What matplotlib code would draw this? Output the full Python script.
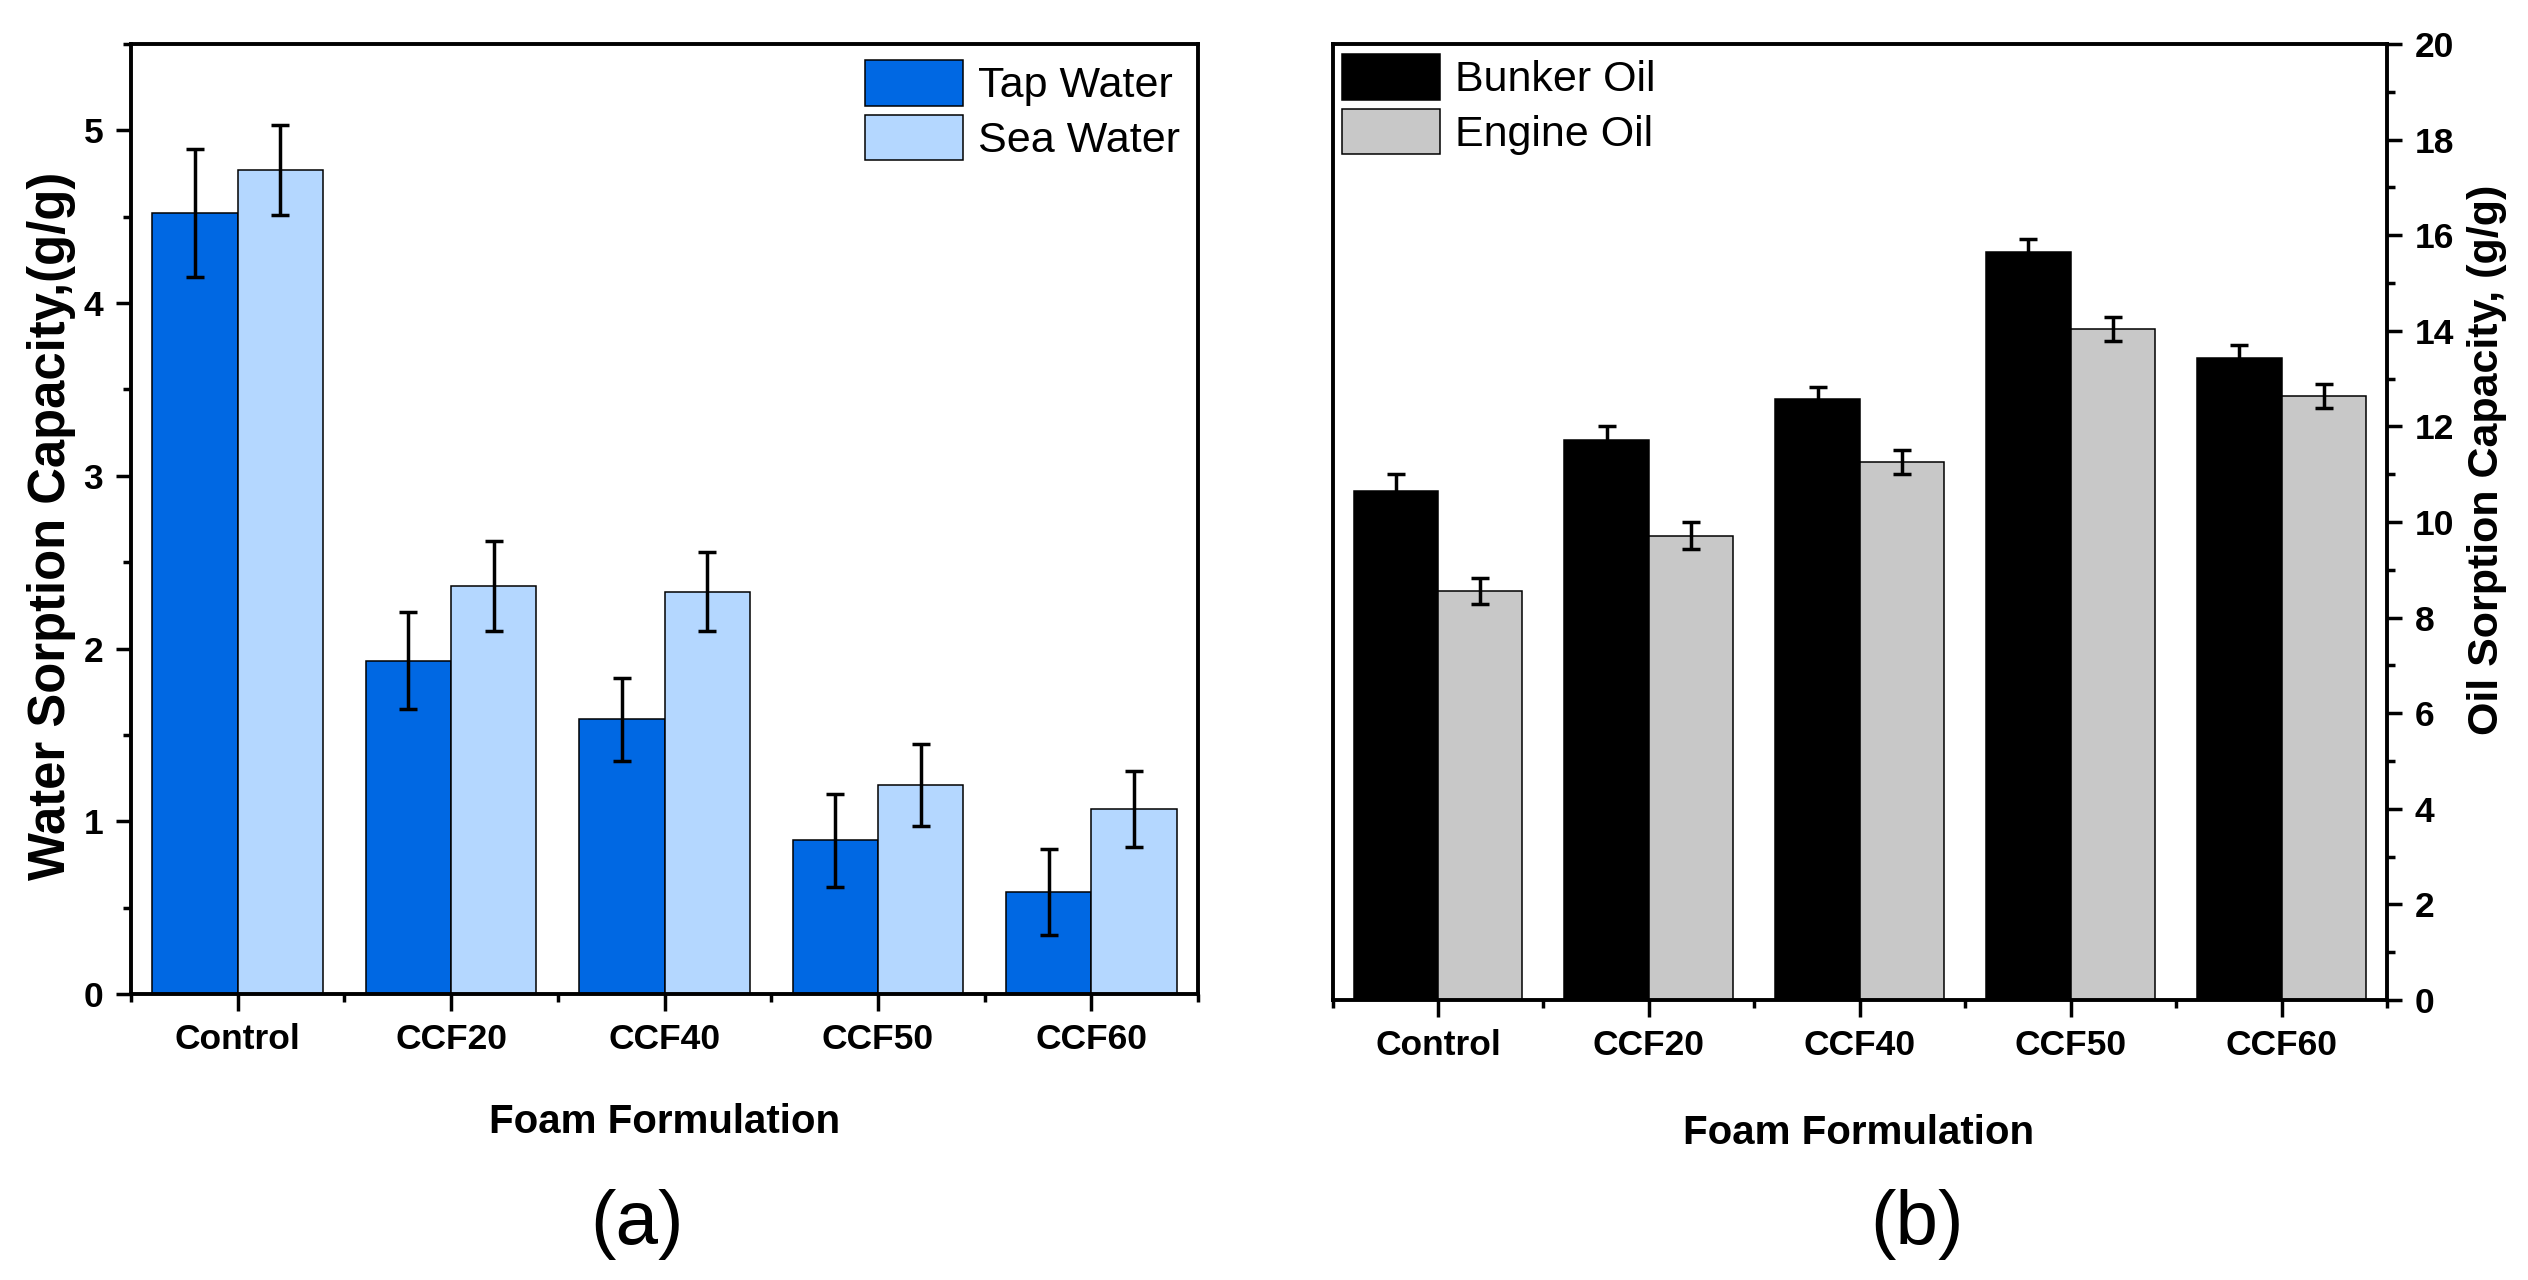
import matplotlib
matplotlib.use("Agg")
import matplotlib.pyplot as plt
from matplotlib.ticker import MultipleLocator, FixedLocator
import numpy as np

plt.rcParams['font.family'] = ['Liberation Sans', 'DejaVu Sans']

# ---------------- data ----------------
categories = ["Control", "CCF20", "CCF40", "CCF50", "CCF60"]

tap_water = [4.52, 1.93, 1.59, 0.89, 0.59]
tap_water_err = [0.37, 0.28, 0.24, 0.27, 0.25]
sea_water = [4.77, 2.36, 2.33, 1.21, 1.07]
sea_water_err = [0.26, 0.26, 0.23, 0.24, 0.22]

bunker_oil = [10.64, 11.72, 12.57, 15.64, 13.44]
bunker_oil_err = [0.36, 0.28, 0.25, 0.28, 0.26]
engine_oil = [8.55, 9.71, 11.26, 14.03, 12.64]
engine_oil_err = [0.27, 0.28, 0.25, 0.25, 0.25]

water_labels = ["Tap Water", "Sea Water"]
oil_labels = ["Bunker Oil", "Engine Oil"]

# ---------------- style ----------------
W, H = 2528, 1280
fig = plt.figure(figsize=(W / 100, H / 100), dpi=100)

def fx(px):
    return px / W

def fy(py):
    return 1 - py / H

axA = fig.add_axes([fx(131), fy(994), fx(1198 - 131), (994 - 44) / H])
axB = fig.add_axes([fx(1332.5), fy(1000), fx(2387 - 1332.5), (1000 - 44) / H])

c_tap = "#0068E3"
c_sea = "#B4D7FF"
c_bunker = "#000000"
c_engine = "#C8C8C8"

bw = 0.4
x = np.arange(len(categories))
err_kw = dict(ecolor="black", elinewidth=2.5, capsize=6.8, capthick=2.5)

def style_axes(ax, right=False):
    for s in ax.spines.values():
        s.set_linewidth(2.8)
        s.set_color("black")
    ax.set_xlim(-0.5, 4.5)
    ax.xaxis.set_major_locator(FixedLocator(x))
    ax.xaxis.set_minor_locator(FixedLocator(np.arange(-0.5, 4.6, 1.0)))
    ax.set_xticklabels(categories, fontsize=25.5, fontweight="bold")
    ax.tick_params(axis="x", which="major", direction="out", length=12, width=2.5, pad=9)
    ax.tick_params(axis="x", which="minor", direction="out", length=6, width=2.5)
    ax.tick_params(axis="x", top=False, which="both")
    if right:
        ax.yaxis.tick_right()
        ax.yaxis.set_label_position("right")
        ax.tick_params(axis="y", which="both", left=False, right=True,
                       labelleft=False, labelright=True)
    ax.tick_params(axis="y", which="major", direction="out", length=11, width=2.5,
                   pad=9, labelsize=25.5)
    ax.tick_params(axis="y", which="minor", direction="out", length=6, width=2.5)
    for lab in ax.get_yticklabels():
        lab.set_fontweight("bold")

# ---------------- panel (a) ----------------
axA.bar(x - bw / 2, tap_water, bw, color=c_tap, edgecolor="black", linewidth=1.1,
        label=water_labels[0], zorder=2)
axA.bar(x + bw / 2, sea_water, bw, color=c_sea, edgecolor="black", linewidth=1.1,
        label=water_labels[1], zorder=2)
axA.errorbar(x - bw / 2, tap_water, yerr=tap_water_err, fmt="none", zorder=3, **err_kw)
axA.errorbar(x + bw / 2, sea_water, yerr=sea_water_err, fmt="none", zorder=3, **err_kw)
axA.set_ylim(0, 5.5)
axA.yaxis.set_major_locator(MultipleLocator(1))
axA.yaxis.set_minor_locator(MultipleLocator(0.5))
style_axes(axA)
axA.set_ylabel("Water Sorption Capacity,(g/g)", fontsize=36.5, fontweight="bold")
axA.yaxis.set_label_coords((52 - 131) / 1067, (994 - 526) / 950)
axA.yaxis.label.set_va("center")
axA.set_xlabel("Foam Formulation", fontsize=29, fontweight="bold")
axA.xaxis.set_label_coords(0.5, -0.1463)
axA.xaxis.label.set_va("baseline")
axA.legend(loc="upper left", bbox_to_anchor=((865 - 131) / 1067, (994 - 60) / 950),
           frameon=False, fontsize=31, handlelength=2.28, handleheight=1.26,
           labelspacing=0.19, handletextpad=0.35, borderpad=0, borderaxespad=0)

# ---------------- panel (b) ----------------
axB.bar(x - bw / 2, bunker_oil, bw, color=c_bunker, edgecolor="black", linewidth=1.1,
        label=oil_labels[0], zorder=2)
axB.bar(x + bw / 2, engine_oil, bw, color=c_engine, edgecolor="black", linewidth=1.1,
        label=oil_labels[1], zorder=2)
axB.errorbar(x - bw / 2, bunker_oil, yerr=bunker_oil_err, fmt="none", zorder=3, **err_kw)
axB.errorbar(x + bw / 2, engine_oil, yerr=engine_oil_err, fmt="none", zorder=3, **err_kw)
axB.set_ylim(0, 20)
axB.yaxis.set_major_locator(MultipleLocator(2))
axB.yaxis.set_minor_locator(MultipleLocator(1))
style_axes(axB, right=True)
axB.set_ylabel("Oil Sorption Capacity, (g/g)", fontsize=31, fontweight="bold",
               rotation=90)
axB.yaxis.set_label_coords((2487 - 1332.5) / 1054.5, (1000 - 460) / 956)
axB.yaxis.label.set_va("center")
axB.yaxis.label.set_ha("center")
axB.set_xlabel("Foam Formulation", fontsize=29, fontweight="bold")
axB.xaxis.set_label_coords((1858.5 - 1332.5) / 1054.5, -0.1506)
axB.xaxis.label.set_va("baseline")
axB.legend(loc="upper left", bbox_to_anchor=((1342 - 1332.5) / 1054.5, (1000 - 54) / 956),
           frameon=False, fontsize=31, handlelength=2.28, handleheight=1.26,
           labelspacing=0.19, handletextpad=0.35, borderpad=0, borderaxespad=0)

# ---------------- panel letters ----------------
fig.text(fx(637), fy(1225), "(a)", fontsize=55, ha="center", va="center")
fig.text(fx(1917), fy(1225), "(b)", fontsize=55, ha="center", va="center")

fig.savefig("out.png", dpi=100, facecolor="white")
